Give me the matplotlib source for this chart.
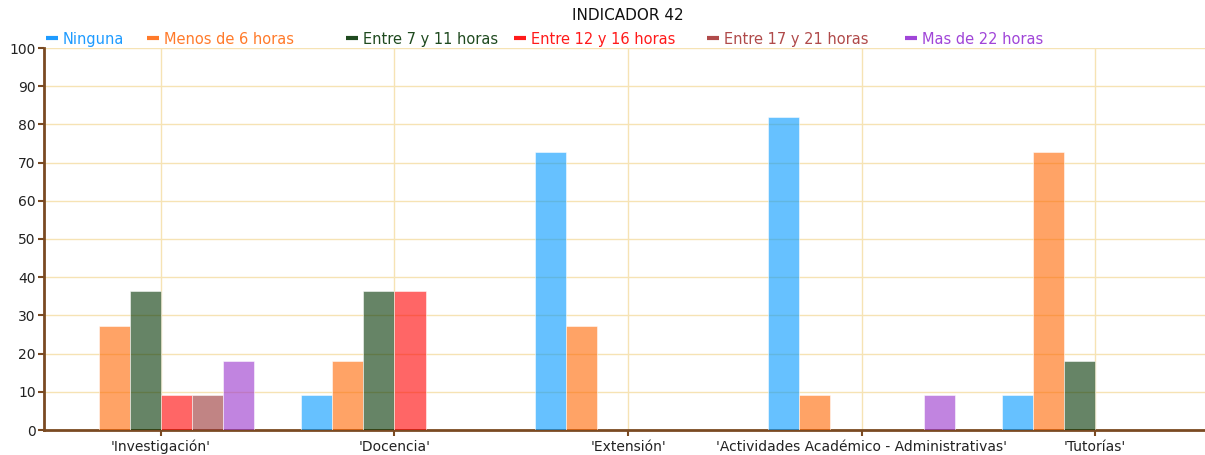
import matplotlib
matplotlib.use("Agg")
import matplotlib.pyplot as plt
import numpy as np

categories = ["'Investigación'", "'Docencia'", "'Extensión'",
              "'Actividades Académico - Administrativas'", "'Tutorías'"]
series_names = ["Ninguna", "Menos de 6 horas", "Entre 7 y 11 horas",
                "Entre 12 y 16 horas", "Entre 17 y 21 horas", "Mas de 22 horas"]
ninguna = [0, 9.09, 72.73, 81.82, 9.09]
menos_6 = [27.27, 18.18, 27.27, 9.09, 72.73]
entre_7_11 = [36.36, 36.36, 0, 0, 18.18]
entre_12_16 = [9.09, 36.36, 0, 0, 0]
entre_17_21 = [9.09, 0, 0, 0, 0]
mas_22 = [18.18, 0, 0, 9.09, 0]
y_ticks = list(range(0, 101, 10))
title = "INDICADOR 42"

series_values = [ninguna, menos_6, entre_7_11, entre_12_16, entre_17_21, mas_22]
base_colors = ["#0099FF", "#FF6600", "#003300", "#FF0000", "#993333", "#9933CC"]
text_colors = ["#1E9BFF", "#FF7A2A", "#1F4A1F", "#FF1A1A", "#B04A4A", "#A045D8"]

W, H = 1205, 455
fig = plt.figure(figsize=(W / 100, H / 100), dpi=100)
fig.patch.set_facecolor("white")

left, right, top, bottom = 44, 1212, 48, 430
ax = fig.add_axes([left / W, (H - bottom) / H, (right - left) / W, (bottom - top) / H])
ax.set_facecolor("white")

x = np.arange(len(categories))
n = len(series_values)
bw = 0.8 / n
for i, (vals, col) in enumerate(zip(series_values, base_colors)):
    offs = (i - (n - 1) / 2) * bw
    ax.bar(x + offs, vals, width=bw, color=col, alpha=0.6,
           edgecolor="white", linewidth=0.6, zorder=3)

ax.set_xlim(-0.5, len(categories) - 0.5)
ax.set_ylim(0, 100)
ax.set_yticks(y_ticks)
ax.set_xticks(x)
ax.set_xticklabels(categories)
ax.grid(True, color="#F6E3B4", linewidth=1.0, zorder=0)

spine_col = "#7A4A22"
for s in ["top", "right"]:
    ax.spines[s].set_visible(False)
ax.spines["left"].set_color(spine_col)
ax.spines["left"].set_linewidth(2)
ax.spines["bottom"].set_color(spine_col)
ax.spines["bottom"].set_linewidth(2)
ax.tick_params(axis="both", colors=spine_col, length=4, width=1.5,
               labelcolor="#222222", labelsize=10)
ax.tick_params(axis="y", pad=2)
ax.tick_params(axis="x", pad=3)

fig.text(628 / W, 1 - 15 / H, title, ha="center", va="center",
         fontsize=11, color="#111111")

# Legend row: short coloured dash followed by the series name in its colour
legend_x = [46, 147, 346, 514, 707, 905]
line_y = 1 - 38 / H
text_y = 1 - 44 / H
for lx, name, col in zip(legend_x, series_names, text_colors):
    fig.add_artist(plt.Line2D([lx / W, (lx + 12) / W], [line_y, line_y],
                              color=col, linewidth=3, solid_capstyle="butt"))
    fig.text((lx + 17) / W, text_y, name, ha="left", va="baseline",
             fontsize=10.5, color=col)

fig.savefig("out.png", dpi=100)
